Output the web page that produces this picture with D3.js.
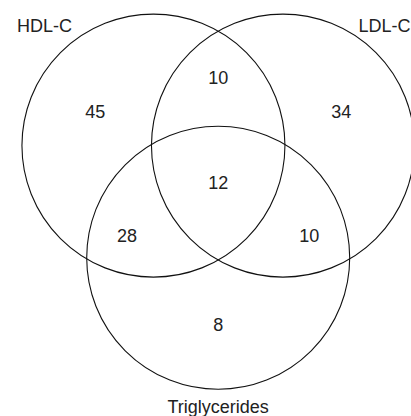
<!DOCTYPE html>
<html>
<head>
<meta charset="utf-8">
<script src="https://cdn.jsdelivr.net/npm/d3@7"></script>
<style>
  html, body { margin: 0; padding: 0; background: #fff; }
  svg { display: block; }
  text { font-family: "Liberation Sans", Arial, sans-serif; fill: #222; }
</style>
</head>
<body>
<div id="venn"></div>
<script>
// sets and region counts
var sets = ["HDL-C", "LDL-C", "Triglycerides"];
var regionSets = [
    ["HDL-C"], ["LDL-C"], ["Triglycerides"],
    ["HDL-C", "LDL-C"], ["HDL-C", "Triglycerides"], ["LDL-C", "Triglycerides"],
    ["HDL-C", "LDL-C", "Triglycerides"]
];
var regionCounts = [45, 34, 8, 10, 28, 10, 12];

var width = 411, height = 416;

var svg = d3.select("#venn")
    .append("svg")
    .attr("width", width)
    .attr("height", height);

// unit layout: circle radius 1, equilateral triangle of centres
var side = 0.985;
var centers = {};
centers[sets[0]] = [-side / 2, -side / (2 * Math.sqrt(3))];
centers[sets[1]] = [side / 2, -side / (2 * Math.sqrt(3))];
centers[sets[2]] = [0, side / Math.sqrt(3)];

var R = 131.5;
var x = d3.scaleLinear().domain([0, 1]).range([218.2, 218.2 + R]);
var y = d3.scaleLinear().domain([0, 1]).range([183, 183 + R]);

svg.append("g")
    .selectAll("circle")
    .data(sets)
    .enter()
    .append("circle")
      .attr("cx", function(d) { return x(centers[d][0]); })
      .attr("cy", function(d) { return y(centers[d][1]); })
      .attr("r", R)
      .style("fill", "none")
      .style("stroke", "#111")
      .style("stroke-width", 1.1);

// region labels: pushed out from centroid along mean of member centres
var labelDist = [0, 1.08, 0.8, 0];
function labelPos(members) {
    var mx = d3.mean(members, function(m) { return centers[m][0]; });
    var my = d3.mean(members, function(m) { return centers[m][1]; });
    var len = Math.sqrt(mx * mx + my * my);
    if (len < 1e-6) return [0, 0];
    var k = labelDist[members.length] / len;
    return [mx * k, my * k];
}

svg.append("g")
    .selectAll("text")
    .data(regionCounts)
    .enter()
    .append("text")
      .text(function(d) { return d; })
      .attr("x", function(d, i) { return x(labelPos(regionSets[i])[0]); })
      .attr("y", function(d, i) { return y(labelPos(regionSets[i])[1]); })
      .attr("dy", "0.35em")
      .attr("text-anchor", "middle")
      .attr("font-size", "18px");

// set names
var g = svg.append("g").attr("font-size", "18px");
g.append("text")
    .text(sets[0])
    .attr("x", x(centers[sets[0]][0]) - R - 5)
    .attr("y", y(centers[sets[0]][1]) - R + 18);
g.append("text")
    .text(sets[1])
    .attr("text-anchor", "end")
    .attr("x", x(centers[sets[1]][0]) + R - 4)
    .attr("y", y(centers[sets[1]][1]) - R + 18);
g.append("text")
    .text(sets[2])
    .attr("text-anchor", "middle")
    .attr("x", x(centers[sets[2]][0]))
    .attr("y", y(centers[sets[2]][1]) + R + 24);
</script>
</body>
</html>
